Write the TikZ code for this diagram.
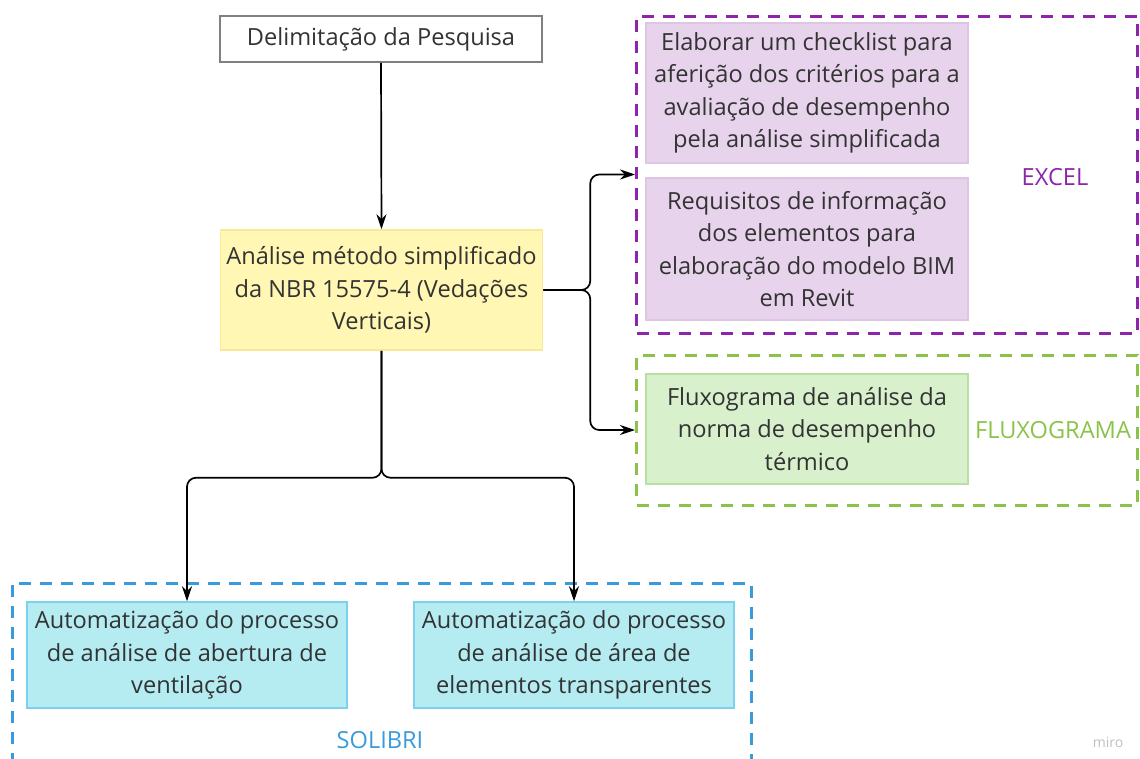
\documentclass[tikz,border=0pt]{standalone}
\usepackage{fontspec}
\setmainfont{Open Sans}
\usepackage{xcolor}
\usetikzlibrary{arrows.meta, calc, positioning}

\definecolor{txtgray}{HTML}{333333}
\definecolor{yelfill}{HTML}{FFF7B3}
\definecolor{yeldraw}{HTML}{F8E99A}
\definecolor{purfill}{HTML}{E7D3EC}
\definecolor{purdraw}{HTML}{DCC6E2}
\definecolor{purdash}{HTML}{8E24AA}
\definecolor{grnfill}{HTML}{D8F0CC}
\definecolor{grndraw}{HTML}{B8E0A2}
\definecolor{grndash}{HTML}{8BC34A}
\definecolor{cyafill}{HTML}{B4ECF2}
\definecolor{cyadraw}{HTML}{7DD0EE}
\definecolor{bluedash}{HTML}{3A9BDC}

\begin{document}
\begin{tikzpicture}[x=1pt, y=-1pt,
  every node/.style={font=\fontsize{23.6}{32.5}\selectfont, text=txtgray},
  card/.style={draw, line width=1.5pt, align=center, inner sep=0pt, minimum width=322},
  group/.style={draw, line width=3pt, dash pattern=on 12pt off 9pt, minimum width=501},
  link/.style={-{Stealth[length=15pt, width=10pt]}, line width=1.7pt, black, rounded corners=9pt}]
\useasboundingbox (0,0) rectangle (1140,758);
\clip (0,0) rectangle (1140,758);

% Groups
\node[group, draw=purdash, minimum height=317] (excel) at (887,174.5) {};
\node[group, draw=grndash, minimum height=150] (fluxo) at (887,430) {};
\node[group, draw=bluedash, minimum width=739, minimum height=200] (solibri) at (381.5,683) {};

% Top
\node[card, draw=black!50, fill=white, minimum height=46] (delim) at (381,39) {Delimitação da Pesquisa};

% Simplified method
\node[card, draw=yeldraw, fill=yelfill, minimum height=120] (metodo) at (381.5,290)
  {Análise método simplificado\\da NBR 15575-4 (Vedações\\Verticais)};

% Excel
\node[card, draw=purdraw, fill=purfill, minimum height=140] (checklist) at (807,93)
  {Elaborar um checklist para\\aferição dos critérios para a\\avaliação de desempenho\\pela análise simplificada};
\node[card, draw=purdraw, fill=purfill, minimum height=142] (requisitos) at (807,249)
  {Requisitos de informação\\dos elementos para\\elaboração do modelo BIM\\em Revit};
\node[text=purdash] (excellbl) at (1055,177) {EXCEL};

% Fluxograma
\node[card, draw=grndraw, fill=grnfill, minimum height=110] (fluxograma) at (807,429)
  {Fluxograma de análise da\\norma de desempenho\\térmico};
\node[text=grndash] (fluxolbl) at (1053,430) {FLUXOGRAMA};

% Solibri
\node[card, draw=cyadraw, fill=cyafill, minimum width=320, minimum height=106] (ventila) at (187,655)
  {Automatização do processo\\de análise de abertura de\\ventilação};
\node[card, draw=cyadraw, fill=cyafill, minimum width=320, minimum height=106] (transp) at (574,655)
  {Automatização do processo\\de análise de área de\\elementos transparentes};
\node[text=bluedash] (sollbl) at (380,740) {SOLIBRI};

\node[text=black!25, font=\fontsize{14}{16}\selectfont] (miro) at (1108,742) {miro};

% Connectors
\draw[link] (delim.south) -- (metodo.north);
\draw[link] (metodo.east) -- ++(47,0) |- (excel.west);
\draw[link] (metodo.east) -- ++(47,0) |- (fluxo.west);
\draw[link] (metodo.south) -- ++(0,127) -| (ventila.north);
\draw[link] (metodo.south) -- ++(0,127) -| (transp.north);
\end{tikzpicture}
\end{document}
